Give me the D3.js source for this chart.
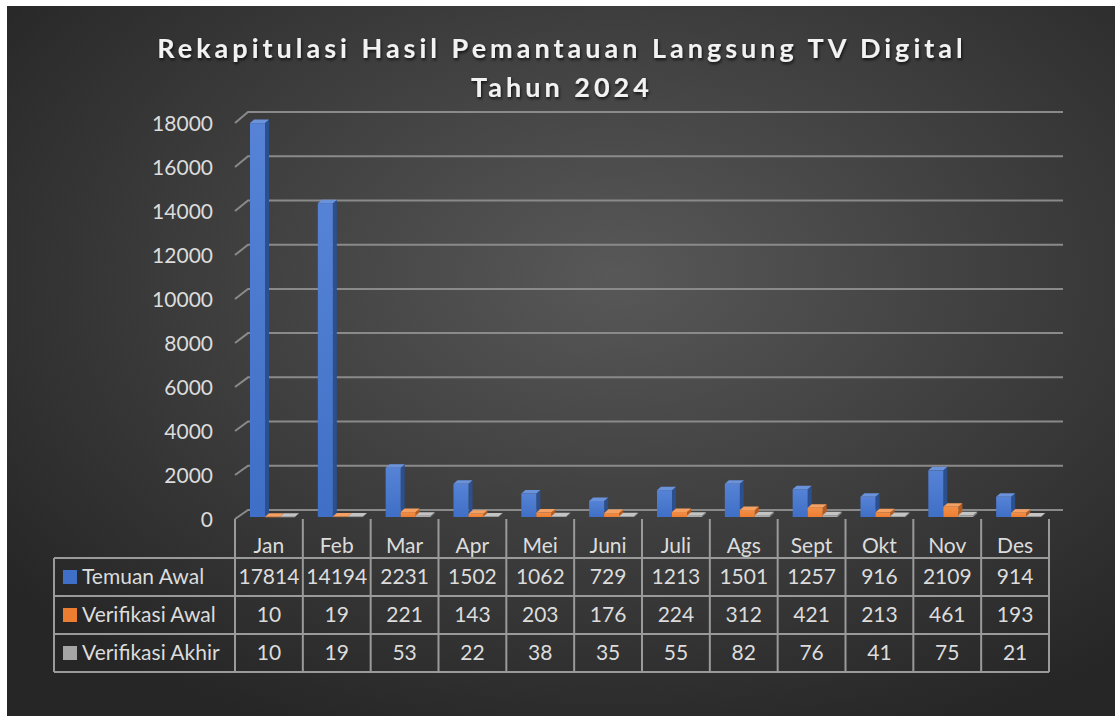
<!DOCTYPE html>
<html>
<head>
<meta charset="utf-8">
<script src="https://cdn.jsdelivr.net/npm/d3@7"></script>
<style>
  html, body { margin: 0; padding: 0; background: #fff; }
  svg { display: block; }
  text { font-family: Lato, "Open Sans", sans-serif; }
</style>
</head>
<body>
<svg id="chart" width="1115" height="716"></svg>
<script>
var months = ["Jan","Feb","Mar","Apr","Mei","Juni","Juli","Ags","Sept","Okt","Nov","Des"];
var seriesNames = ["Temuan Awal","Verifikasi Awal","Verifikasi Akhir"];
var temuanAwal = [17814,14194,2231,1502,1062,729,1213,1501,1257,916,2109,914];
var verifikasiAwal = [10,19,221,143,203,176,224,312,421,213,461,193];
var verifikasiAkhir = [10,19,53,22,38,35,55,82,76,41,75,21];
var yTicks = [0,2000,4000,6000,8000,10000,12000,14000,16000,18000];
var titleLines = ["Rekapitulasi Hasil Pemantauan Langsung TV Digital", "Tahun 2024"];

var seriesValues = [temuanAwal, verifikasiAwal, verifikasiAkhir];
var colors = [
  {front: "#3f6fc6", light: "#5683d6", side: "#2c4f8e", top: "#6b93dc"},
  {front: "#ed7d31", light: "#f48f48", side: "#b85a1c", top: "#f6a062"},
  {front: "#a5a5a5", light: "#b4b4b4", side: "#7c7c7c", top: "#c4c4c4"}
];

var svg = d3.select("#chart");
var defs = svg.append("defs");

var bg = defs.append("radialGradient").attr("id", "bg")
  .attr("cx", "55%").attr("cy", "38%").attr("r", "70%");
bg.append("stop").attr("offset", "0%").attr("stop-color", "#585858");
bg.append("stop").attr("offset", "100%").attr("stop-color", "#262626");

var sh = defs.append("filter").attr("id", "shadow").attr("x", "-10%").attr("y", "-30%").attr("width", "120%").attr("height", "160%");
sh.append("feDropShadow").attr("dx", 1).attr("dy", 2).attr("stdDeviation", 1.5)
  .attr("flood-color", "#000").attr("flood-opacity", 0.7);

colors.forEach(function(c, i){
  var g = defs.append("linearGradient").attr("id", "bar" + i)
    .attr("x1", 0).attr("x2", 0).attr("y1", 0).attr("y2", 1);
  g.append("stop").attr("offset", "0%").attr("stop-color", c.light);
  g.append("stop").attr("offset", "100%").attr("stop-color", c.front);
});

svg.append("rect").attr("x", 7).attr("y", 6).attr("width", 1108).attr("height", 710).attr("fill", "url(#bg)");

// title
svg.append("g").selectAll("text").data(titleLines).enter().append("text")
  .attr("x", 562).attr("y", function(d, i){ return 58 + i * 39; })
  .attr("text-anchor", "middle")
  .attr("font-size", 27).attr("font-weight", "bold")
  .attr("letter-spacing", 4)
  .attr("fill", "#f2f2f2")
  .attr("filter", "url(#shadow)")
  .text(function(d){ return d; });

// scales
var x0 = 235, x1 = 1049;
var x = d3.scaleBand().domain(months).range([x0, x1]);
var xs = d3.scaleBand().domain([0,1,2]).range([15, 60]);
var yFront = d3.scaleLinear().domain([0, 18000]).range([519, 123]);
var yBack = d3.scaleLinear().domain([0, 18000]).range([510, 112]);
var yBar = d3.scaleLinear().domain([0, 18000]).range([517, 119]);
var depthX = 13;
var bx = 4, by = 3.5;

// gridlines (back wall + left side diagonal)
var grid = svg.append("g").attr("stroke", "#8a8a8a").attr("stroke-width", 2).attr("fill", "none");
grid.selectAll("path").data(yTicks).enter().append("path")
  .attr("d", function(v){
    return "M" + x0 + "," + yFront(v) + "L" + (x0 + depthX) + "," + yBack(v) + "L" + 1063 + "," + yBack(v);
  });

// y axis labels
var yAxis = d3.axisLeft(yFront).tickValues(yTicks).tickSize(0).tickPadding(0).tickFormat(d3.format("d"));
var ya = svg.append("g").attr("transform", "translate(213,0)").call(yAxis);
ya.select(".domain").remove();
ya.selectAll("text").attr("font-size", 21).attr("fill", "#dcdcdc")
  .attr("font-family", "Lato, 'Open Sans', sans-serif").attr("dy", "0.35em");

// bars
var bars = svg.append("g");
months.forEach(function(m, i){
  seriesValues.forEach(function(vals, s){
    var v = vals[i];
    var left = x(m) + xs(s);
    var w = xs.bandwidth();
    var top = yBar(v), base = yBar(0);
    var g = bars.append("g");
    g.append("path").attr("fill", colors[s].side)
      .attr("d", "M" + (left + w) + "," + base + "L" + (left + w + bx) + "," + (base - by) +
        "L" + (left + w + bx) + "," + (top - by) + "L" + (left + w) + "," + top + "Z");
    g.append("path").attr("fill", colors[s].top)
      .attr("d", "M" + left + "," + top + "L" + (left + bx) + "," + (top - by) +
        "L" + (left + w + bx) + "," + (top - by) + "L" + (left + w) + "," + top + "Z");
    g.append("rect").attr("x", left).attr("y", top).attr("width", w).attr("height", Math.max(0.5, base - top))
      .attr("fill", "url(#bar" + s + ")");
  });
});

// data table
var rowTop = 558, rowH = 38;
var legendLeft = 54;
var tbl = svg.append("g");
var lineColor = "#9a9a9a";
var rowsY = d3.range(4).map(function(r){ return rowTop + r * rowH; });

tbl.selectAll("line.h").data(rowsY).enter().append("line")
  .attr("x1", legendLeft).attr("x2", x1).attr("y1", function(d){ return d; }).attr("y2", function(d){ return d; })
  .attr("stroke", lineColor).attr("stroke-width", 2);

var vLines = months.map(function(m){ return x(m); }).concat([x1]);
tbl.selectAll("line.v").data(vLines).enter().append("line")
  .attr("x1", function(d){ return d; }).attr("x2", function(d){ return d; })
  .attr("y1", 519).attr("y2", rowsY[3])
  .attr("stroke", lineColor).attr("stroke-width", 2);
tbl.append("line").attr("x1", legendLeft).attr("x2", legendLeft).attr("y1", rowTop).attr("y2", rowsY[3])
  .attr("stroke", lineColor).attr("stroke-width", 2);

// category labels
tbl.selectAll("text.cat").data(months).enter().append("text")
  .attr("x", function(d){ return x(d) + x.bandwidth() / 2; }).attr("y", 546)
  .attr("dy", "0.35em").attr("text-anchor", "middle")
  .attr("font-size", 21).attr("fill", "#dcdcdc").text(function(d){ return d; });

// legend + values
seriesNames.forEach(function(name, s){
  var cy = rowTop + s * rowH + rowH / 2;
  tbl.append("rect").attr("x", 63).attr("y", cy - 7).attr("width", 14).attr("height", 14).attr("fill", colors[s].front);
  tbl.append("text").attr("x", 82).attr("y", cy).attr("dy", "0.35em")
    .attr("font-size", 21).attr("fill", "#dcdcdc").text(name);
  tbl.selectAll(null).data(seriesValues[s]).enter().append("text")
    .attr("x", function(d, i){ return x(months[i]) + x.bandwidth() / 2; }).attr("y", cy)
    .attr("dy", "0.35em").attr("text-anchor", "middle")
    .attr("font-size", 21).attr("fill", "#dcdcdc").text(function(d){ return d; });
});
</script>
</body>
</html>
